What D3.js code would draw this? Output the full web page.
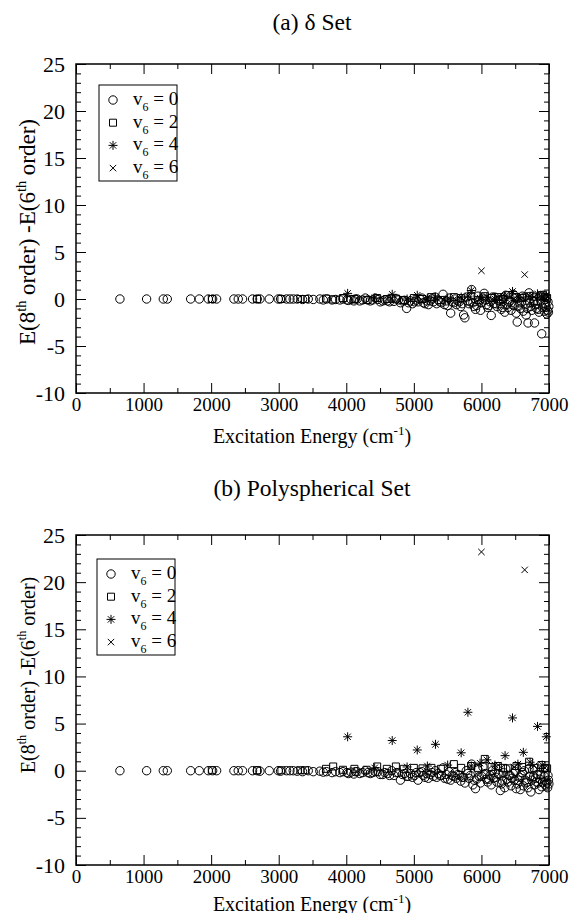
<!DOCTYPE html>
<html>
<head>
<meta charset="utf-8">
<script src="https://cdn.jsdelivr.net/npm/d3@7"></script>
<style>
body { margin:0; background:#fff; }
</style>
</head>
<body>
<svg id="fig" width="571" height="913"></svg>
<script>

// axis ranges and ticks
var xMajor = [0,1000,2000,3000,4000,5000,6000,7000];
var yMajor = [-10,-5,0,5,10,15,20,25];
var serif = "'Liberation Serif', 'Times New Roman', Times, 'DejaVu Serif', serif";

// v6 = 0 states: excitation energies (cm-1), shared by both panels
var e0 = [650,1045,1292,1351,1697,1824,1958,2022,2081,2337,
	2401,2465,2613,2682,2722,2860,2993,3027,3116,3166,
	3215,3274,3353,3437,3511,3609,3660,3708,3790,3842,
	3905,3950,4030,4071,4112,4160,4240,4282,4355,4390,
	4468,4502,4570,4611,4672,4705,4770,4801,4862,4893,
	4951,4980,5035,5062,5118,5140,5190,5215,5268,5290,
	5338,5360,5410,5432,5478,5500,5545,5566,5610,5630,
	5672,5694,5736,5755,5796,5815,5855,5874,5912,5930,
	5968,5987,6022,6040,6075,6093,6128,6145,6180,6197,
	6230,6247,6280,6296,6328,6345,6376,6392,6423,6439,
	6470,6485,6515,6530,6560,6575,6605,6620,6648,6662,
	6690,6704,6732,6746,6773,6786,6813,6826,6853,6866,
	6892,6905,6930,6943,6968,6980,6992,6998,
	4010,4135,4200,4320,4430,4540,4640,4740,4830,4920,
	5010,5090,5166,5242,5315,5385,5455,5523,5588,5652,
	5715,5776,5836,5893,5950,6005,6058,6110,6162,6214,
	6263,6312,6360,6408,6455,6500,6545,6590,6634,6676,
	6718,6760,6800,6840,6879,6918,6955,6985];
// differences, (a) delta set
var d0a = [0,0,0,0,0,0,0,0,0,0,
	0,0,0,0,0,0,0,0,0,0,
	0,0,-0.05,0,-0.05,0,-0.1,0,-0.1,-0.05,
	-0.1,0,-0.15,-0.05,-0.2,0,-0.1,0.1,-0.2,-0.1,
	-0.05,-0.3,-0.1,-0.2,0.05,-0.25,-0.1,-0.4,-0.15,-1.0,
	-0.2,-0.5,-0.1,-0.3,0.1,-0.4,-0.2,-0.6,0,-0.3,
	-0.5,-0.1,-0.4,0.5,-0.2,-0.7,-1.5,-0.3,0,-0.6,
	-0.3,-0.8,-1.7,-2.0,-0.2,-0.5,1.0,-0.4,-1.1,-0.7,
	-0.2,-1.2,0.1,0.6,-0.6,-0.9,-0.3,-1.75,-0.5,0.2,
	-0.8,-0.1,-0.5,-1.1,0.2,-1.4,-0.6,-0.9,-0.2,-1.2,
	0.5,-0.7,-1.5,-2.45,-0.4,-1.0,0.3,-1.3,-0.6,-1.7,
	-2.55,0.65,-0.8,-1.2,-0.3,-2.55,-1.0,-0.5,-1.4,0.3,
	-3.7,-0.9,-1.3,-0.5,-1.6,-1.2,-1.4,-0.8,
	-0.1,0,-0.2,-0.1,0.1,-0.2,-0.3,0,-0.2,-0.4,
	-0.3,0,-0.5,-0.2,0.2,-0.3,-0.6,0.1,-0.4,-0.2,
	-0.5,0.2,-0.3,-0.8,0.3,-0.4,-0.1,-0.7,0.2,-0.5,
	-0.2,-0.9,0.4,-0.3,-0.6,0.1,-0.8,-0.3,0.2,-1.0,
	-0.4,0.3,-0.6,-1.1,-0.2,0.4,-0.9,-0.3];
// differences, (b) polyspherical set
var d0b = [0,0,0,0,0,0,0,0,0,0,
	0,0,0,0,-0.05,0,0,-0.05,0,0,
	0,-0.05,-0.1,0,-0.1,-0.05,-0.15,-0.1,-0.2,-0.1,
	-0.2,-0.1,-0.3,-0.15,-0.35,-0.1,-0.2,0,-0.3,-0.2,
	-0.1,-0.4,-0.2,-0.3,0,-0.5,-0.2,-1.0,-0.3,-0.6,
	-0.3,-0.7,-0.2,-1.0,-0.1,-0.5,-0.3,-0.8,-0.2,-0.6,
	-0.7,-0.3,-0.5,0.3,-0.4,-0.9,-1.0,-0.5,-0.2,-0.8,
	-0.5,-1.1,-0.7,-1.3,-0.3,-0.8,0.7,-1.5,-1.9,-0.9,
	-0.6,-1.3,0.4,-0.4,-0.9,-1.2,-0.5,-1.5,-0.8,-0.2,
	-1.2,-0.3,-2.1,-1.4,-0.2,-1.8,-0.9,-1.2,-0.5,-1.6,
	-0.3,-1.0,-1.9,-1.4,-0.7,-2.0,-0.2,-1.6,-1.0,-1.3,
	-1.8,0.2,-2.25,-1.0,-0.6,-1.5,-1.2,-0.4,-2.0,-0.9,
	-1.7,-1.2,-0.6,-1.5,-1.3,-1.8,-1.0,-1.4,
	-0.2,-0.1,-0.3,-0.2,-0.1,-0.4,-0.5,-0.2,-0.4,-0.6,
	-0.5,-0.2,-0.7,-0.4,0,-0.5,-0.8,-0.1,-0.6,-0.4,
	-0.7,0,-0.5,-1.0,0.1,-0.6,-0.3,-0.9,0,-0.7,
	-0.4,-1.1,0.2,-0.5,-0.8,-0.1,-1.0,-0.5,0,-1.2,
	-0.6,0.1,-0.8,-1.3,-0.4,0.2,-1.1,-0.5];

// v6 = 2 states
var e2 = [2010,2680,3040,3320,3390,3700,3806,3950,4120,4300,
	4457,4600,4734,4850,5000,5128,5260,5400,5592,5700,
	5850,5950,6050,6150,6243,6320,6391,6519,6600,6706,
	6780,6889,6940,6972];
var d2a = [0,0,0,0,0,0.05,-0.05,0.1,0,-0.1,
	0.1,0,0.05,-0.1,0.1,0,0.2,-0.1,0.2,0.1,
	0.3,-0.1,0.3,0.1,0.2,0,0.4,0.2,0.1,0.3,
	-0.2,0.4,0.2,0.1];
var d2b = [0.05,0.05,0.05,0.05,0.05,0.2,0.45,0.1,0.2,0.1,
	0.45,0.2,0.45,0.2,0.3,0.25,0.3,0.2,0.7,0.3,
	0.5,0.3,1.25,0.4,0.5,0.3,0.25,0.5,0.4,0.95,
	0.3,0.6,0.3,0.25];

// v6 = 4 states
var e4 = [4020,4420,4680,4900,5050,5200,5320,5500,5700,5800,
	5850,5980,6080,6200,6350,6460,6540,6620,6720,6830,
	6900,6960];
var d4a = [0.6,0.1,0.5,0,0.4,0.1,0.2,0,0.2,0.3,
	0.9,0.1,0.2,0,0.3,0.8,0.2,0.1,0.3,0.55,
	0.2,0.4];
var d4b = [3.6,0.3,3.2,0.4,2.2,0.5,2.8,0.6,1.9,6.2,
	0.5,0.8,1.15,0.6,1.6,5.6,0.7,1.95,0.9,4.7,
	0.6,3.6];

// v6 = 6 states
var e6 = [6000,6250,6480,6640,6780,6940];
var d6a = [3.0,0.1,0,2.6,0.2,-0.1];
var d6b = [23.2,0.6,0.4,21.3,0.5,0.3];


var svg = d3.select("#fig");
var left = 76, right = 549;

var symbolPath = function(kind) {
	if (kind == 2) return "M-3.5,-3.5h7v7h-7z";
	if (kind == 4) return "M0,-4.5V4.5M-4.5,0H4.5M-3.2,-3.2L3.2,3.2M-3.2,3.2L3.2,-3.2";
	if (kind == 6) return "M-3.2,-3.2L3.2,3.2M-3.2,3.2L3.2,-3.2";
	return d3.symbol(d3.symbolCircle, Math.PI*4.2*4.2)();
	};

var plainNum = function(v) { return String(v); };

var drawPanel = function(p) {
	var x = d3.scaleLinear().domain([0,7000]).range([left,right]);
	var y = d3.scaleLinear().domain([-10,25]).range([p.bottom,p.top]);
	var g = svg.append("g");

	g.append("text").attr("x",312).attr("y",p.titleY).attr("text-anchor","middle")
		.style("font-size","23.5px").text(p.title);

	var xMinor = d3.range(500,7000,1000);
	var yMinor = d3.range(-10,25,1).filter(function(v) { return v % 5 != 0; });

	// bottom axis with labels
	g.append("g").attr("transform","translate(0,"+p.bottom+")")
		.call(d3.axisBottom(x).tickValues(xMajor).tickSize(-10).tickPadding(5).tickFormat(plainNum))
		.call(function(a) { a.selectAll("text").style("font-size","19px"); });
	g.append("g").attr("transform","translate(0,"+p.bottom+")")
		.call(d3.axisBottom(x).tickValues(xMinor).tickSize(-5).tickFormat(""));
	g.append("g").attr("transform","translate(0,"+p.top+")")
		.call(d3.axisTop(x).tickValues(xMajor).tickSize(-10).tickFormat(""));
	g.append("g").attr("transform","translate(0,"+p.top+")")
		.call(d3.axisTop(x).tickValues(xMinor).tickSize(-5).tickFormat(""));
	// left axis with labels
	g.append("g").attr("transform","translate("+left+",0)")
		.call(d3.axisLeft(y).tickValues(yMajor).tickSize(-10).tickPadding(11).tickFormat(plainNum))
		.call(function(a) { a.selectAll("text").style("font-size","22px"); });
	g.append("g").attr("transform","translate("+left+",0)")
		.call(d3.axisLeft(y).tickValues(yMinor).tickSize(-5).tickFormat(""));
	g.append("g").attr("transform","translate("+right+",0)")
		.call(d3.axisRight(y).tickValues(yMajor).tickSize(-10).tickFormat(""));
	g.append("g").attr("transform","translate("+right+",0)")
		.call(d3.axisRight(y).tickValues(yMinor).tickSize(-5).tickFormat(""));
	g.selectAll(".domain").remove();
	g.selectAll(".tick line").attr("stroke","#000").attr("stroke-width",1);

	g.append("rect").attr("x",left).attr("y",p.top)
		.attr("width",right-left).attr("height",p.bottom-p.top)
		.attr("fill","none").attr("stroke","#000").attr("stroke-width",1.5);

	// x title
	var xt = g.append("text").attr("x",312).attr("y",p.xTitleY).attr("text-anchor","middle")
		.style("font-size","20px");
	xt.append("tspan").text("Excitation Energy (cm");
	xt.append("tspan").attr("dy",-8).style("font-size","13px").text("-1");
	xt.append("tspan").attr("dy",8).text(")");

	// y title
	var yt = g.append("text").attr("transform","translate("+p.yTitleX+","+p.yTitleMid+") rotate(-90)")
		.attr("text-anchor","middle").style("font-size",p.yTitleSize+"px");
	yt.append("tspan").text("E(8");
	yt.append("tspan").attr("dy",-9).style("font-size",(p.yTitleSize*0.62)+"px").text("th");
	yt.append("tspan").attr("dy",9).text(" order) -E(6");
	yt.append("tspan").attr("dy",-9).style("font-size",(p.yTitleSize*0.62)+"px").text("th");
	yt.append("tspan").attr("dy",9).text(" order)");

	// points
	var sets = [[e0,p.d0,0],[e2,p.d2,2],[e4,p.d4,4],[e6,p.d6,6]];
	sets.forEach(function(s) {
		var pts = s[0].map(function(e,i) { return [e, s[1][i]]; });
		g.append("g").selectAll("path").data(pts).enter().append("path")
			.attr("transform",function(d) { return "translate("+x(d[0])+","+y(d[1])+")"; })
			.attr("d",symbolPath(s[2]))
			.attr("fill","none").attr("stroke","#000").attr("stroke-width",1);
		});

	// legend
	var lg = g.append("g");
	lg.append("rect").attr("x",p.legX).attr("y",p.legY).attr("width",78).attr("height",96)
		.attr("fill","#fff").attr("stroke","#000").attr("stroke-width",1);
	[0,2,4,6].forEach(function(k,i) {
		var ry = p.legY + 15 + i*22.7;
		lg.append("path").attr("transform","translate("+(p.legX+14)+","+ry+")")
			.attr("d",symbolPath(k)).attr("fill","none").attr("stroke","#000");
		var t = lg.append("text").attr("x",p.legX+34).attr("y",ry+5).style("font-size","19px");
		t.append("tspan").text("v");
		t.append("tspan").attr("dy",6).style("font-size","12px").text("6");
		t.append("tspan").attr("dy",-6).text(" = "+k);
		});
	};

drawPanel({top:64, bottom:393, title:"(a) \u03b4 Set", titleY:30, xTitleY:443, yTitleX:35, yTitleMid:232, yTitleSize:23,
	d0:d0a, d2:d2a, d4:d4a, d6:d6a, legX:99, legY:85});
drawPanel({top:535, bottom:865, title:"(b) Polyspherical Set", titleY:496, xTitleY:911, yTitleX:35, yTitleMid:675, yTitleSize:20,
	d0:d0b, d2:d2b, d4:d4b, d6:d6b, legX:97, legY:559});

// every text in Times-like serif, as in the original figure
svg.selectAll("text").style("font-family",serif).style("fill","#000");

</script>
</body>
</html>
